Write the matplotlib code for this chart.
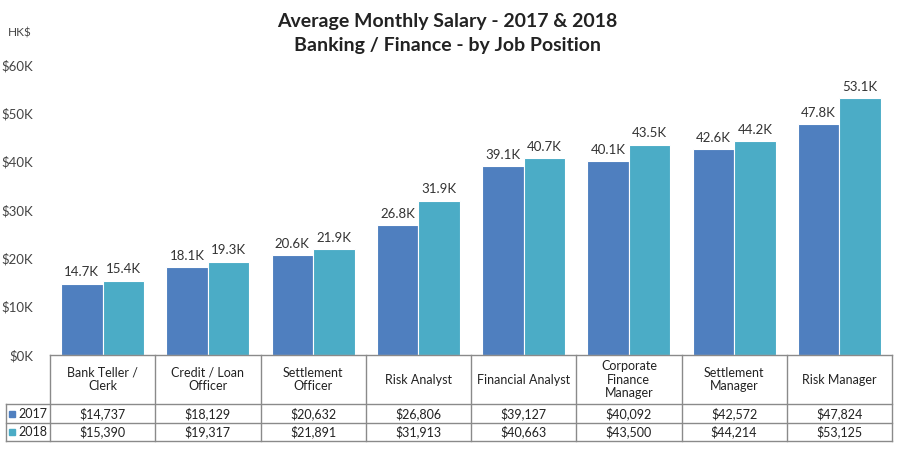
import matplotlib.pyplot as plt
import matplotlib.transforms as mtransforms
import numpy as np

plt.rcParams["font.family"] = ["Lato", "DejaVu Sans"]

positions = [
    "Bank Teller /\nClerk",
    "Credit / Loan\nOfficer",
    "Settlement\nOfficer",
    "Risk Analyst",
    "Financial Analyst",
    "Corporate\nFinance\nManager",
    "Settlement\nManager",
    "Risk Manager",
]
salary_2017 = [14737, 18129, 20632, 26806, 39127, 40092, 42572, 47824]
salary_2018 = [15390, 19317, 21891, 31913, 40663, 43500, 44214, 53125]
years = ["2017", "2018"]
colors = ["#4f7fbf", "#4bacc6"]

fig = plt.figure(figsize=(9.08, 4.62), dpi=100)
W, H = 908, 462
ax = fig.add_axes([50 / W, (H - 355) / H, 842 / W, 290 / H])

x = np.arange(len(positions))
bw = 0.395
for offset, vals, col in [(-bw / 2, salary_2017, colors[0]), (bw / 2, salary_2018, colors[1])]:
    ax.bar(x + offset, vals, width=bw, color=col, edgecolor="white", linewidth=0.8)
    for xi, v in zip(x + offset, vals):
        ax.text(xi, v + 1100, f"{v / 1000:.1f}K", ha="center", va="bottom",
                fontsize=9.5, color="#333333")

ax.set_xlim(-0.5, len(positions) - 0.5)
ax.set_ylim(0, 60000)
ax.set_yticks(range(0, 60001, 10000))
ax.set_yticklabels([f"${v // 1000}K" for v in range(0, 60001, 10000)],
                   fontsize=9.5, color="#444444")
ax.tick_params(axis="y", length=0, pad=12)
ax.set_xticks([])
for s in ax.spines.values():
    s.set_visible(False)

fig.text(8 / W, 1 - 33 / H, "HK$", fontsize=8.5, color="#444444", va="center")
fig.text(447 / W, 1 - 22 / H, "Average Monthly Salary - 2017 & 2018",
         ha="center", va="center", fontsize=14, fontweight="bold", color="#222222")
fig.text(447 / W, 1 - 46 / H, "Banking / Finance - by Job Position",
         ha="center", va="center", fontsize=14, fontweight="bold", color="#222222")

# data table under the axes
trans = mtransforms.blended_transform_factory(ax.transData, ax.transAxes)
lc = "#8a8a8a"
y_top, y_head, y_r1, y_r2 = 0.0, -49 / 290, -68 / 290, -86 / 290
x_left = -0.5 - 44 / 105.25
x_right = len(positions) - 0.5
kw = dict(transform=trans, clip_on=False, color=lc, linewidth=1)

ax.plot([-0.5, x_right], [y_top, y_top], **kw)
for yy in (y_head, y_r1, y_r2):
    ax.plot([x_left, x_right], [yy, yy], **kw)
for xb in np.arange(-0.5, len(positions), 1.0):
    ax.plot([xb, xb], [y_top, y_r2], **kw)
ax.plot([x_left, x_left], [y_head, y_r2], **kw)

for xi, name in zip(x, positions):
    ax.text(xi, (y_top + y_head) / 2, name, transform=trans, ha="center", va="center",
            fontsize=9, color="#222222", linespacing=1.15)
for yy0, yy1, vals in [(y_head, y_r1, salary_2017), (y_r1, y_r2, salary_2018)]:
    for xi, v in zip(x, vals):
        ax.text(xi, (yy0 + yy1) / 2, f"${v:,}", transform=trans, ha="center",
                va="center", fontsize=9, color="#222222")

for yy0, yy1, yr, col in [(y_head, y_r1, years[0], colors[0]), (y_r1, y_r2, years[1], colors[1])]:
    ym = (yy0 + yy1) / 2
    ax.plot([x_left + 0.06], [ym], marker="s", markersize=4, color=col,
            transform=trans, clip_on=False)
    ax.text(x_left + 0.12, ym, yr, transform=trans, ha="left", va="center",
            fontsize=9, color="#222222")

fig.savefig("out.png", dpi=100, facecolor="white")
